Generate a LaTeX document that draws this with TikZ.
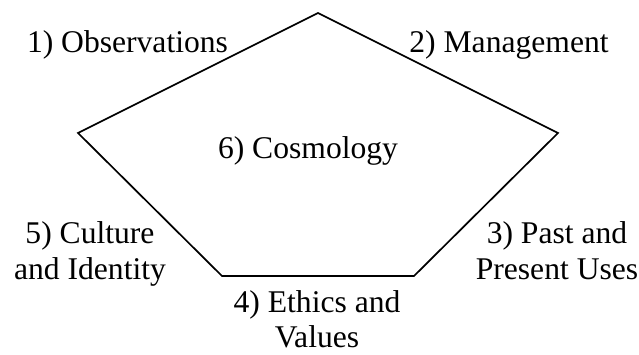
\documentclass[tikz,border=0pt]{standalone}
\usepackage{fontspec}
\setmainfont{Liberation Serif}
\begin{document}
\begin{tikzpicture}[x=1pt,y=-1pt,
  edge/.style={line width=1.7pt,line join=miter},
  lbl/.style={font=\fontsize{31.6}{36}\selectfont,inner sep=0pt,anchor=base,align=center}]
\useasboundingbox (0,0) rectangle (639,354);
% pentagon corners
\coordinate (top) at (318,13);
\coordinate (right) at (558,133);
\coordinate (br) at (414,276);
\coordinate (bl) at (222,276);
\coordinate (left) at (78,133);
\draw[edge] (top) -- (right) -- (br) -- (bl) -- (left) -- cycle;
% labels (two-line labels are placed by the baseline of their last line)
\node[lbl] (obs) at (127.5,52) {1) Observations};
\node[lbl] (man) at (509,52) {2) Management};
\node[lbl] (cos) at (308,158) {6) Cosmology};
\node[lbl] (pas) at (557,279) {3) Past and\\Present Uses};
\node[lbl] (cul) at (90,279) {5) Culture\\and Identity};
\node[lbl,font=\fontsize{31.6}{35}\selectfont] (eth) at (317,347) {4) Ethics and\\Values};
\end{tikzpicture}
\end{document}
